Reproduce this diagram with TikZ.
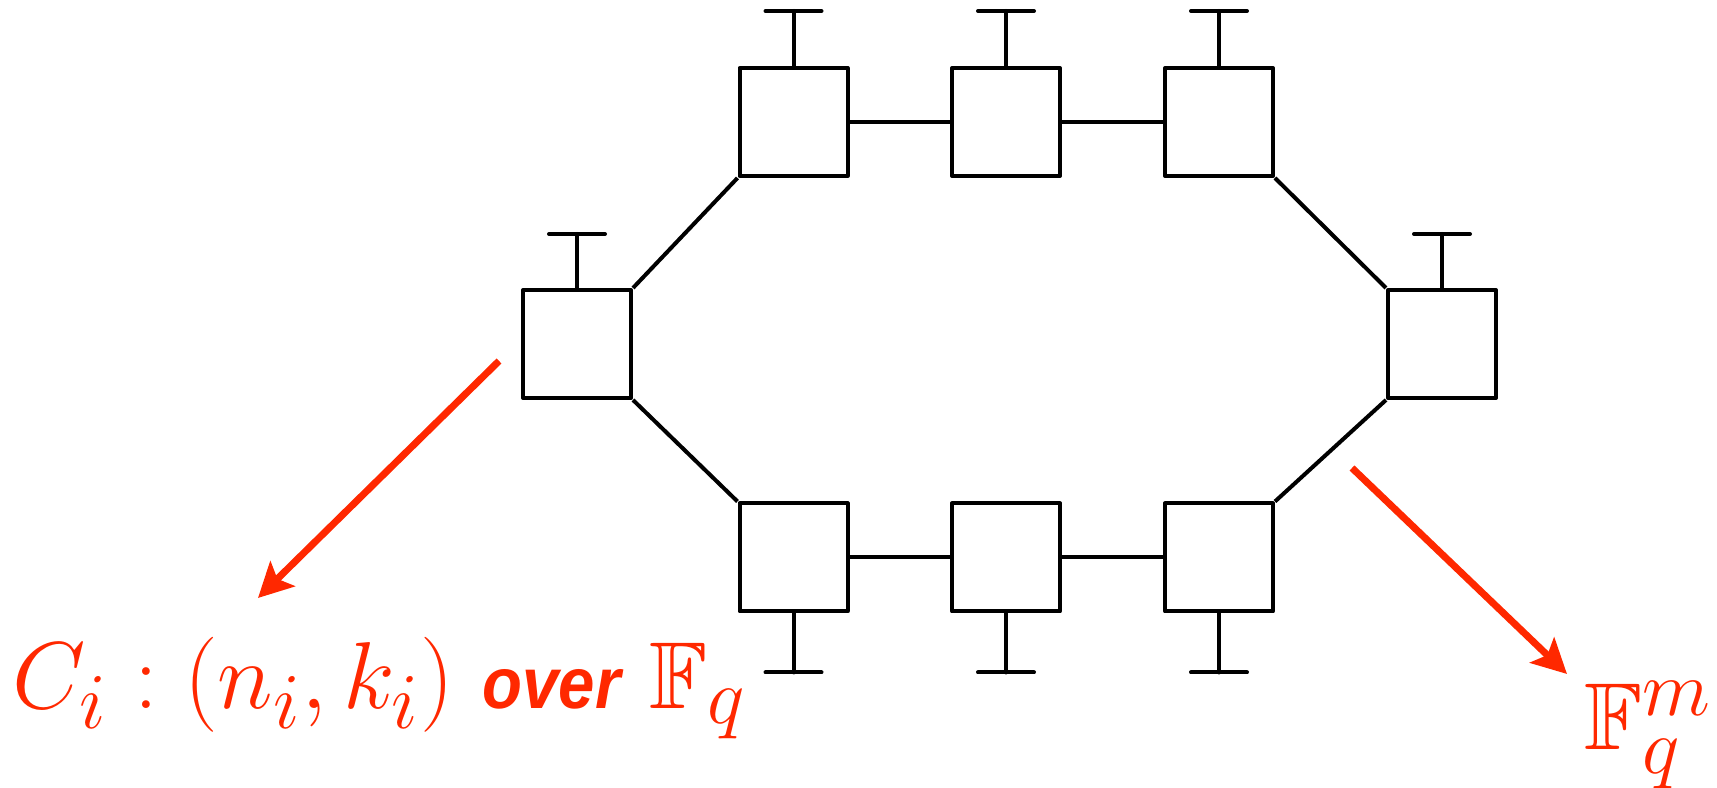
\documentclass[tikz,border=0pt]{standalone}
\usepackage{fontspec}
\usepackage{amssymb}
\usepackage{graphicx}
\usetikzlibrary{arrows.meta}
\newfontfamily\oversf{Liberation Sans}
\definecolor{hot}{RGB}{255,40,0}

\begin{document}
\begin{tikzpicture}[x=0.25pt,y=-0.25pt,
  blk/.style={draw=black,line width=1pt,minimum width=27pt,minimum height=27pt,inner sep=0pt,line join=round},
  wire/.style={line width=1pt,black},
  leg/.style={line width=1pt,black,line cap=round},
  pointer/.style={hot,line width=1.75pt,-{Stealth[length=8.6pt,width=8.7pt,inset=1.8pt]}},
  lbl/.style={text=hot,inner sep=0pt,scale=0.955,font=\Huge}]
\useasboundingbox (0,0) rectangle (1717,788);

% ring of blocks
\node[blk] (t1) at (793.5,122) {};
\node[blk] (t2) at (1006,122) {};
\node[blk] (t3) at (1219,122) {};
\node[blk] (l)  at (577,344) {};
\node[blk] (r)  at (1442,344) {};
\node[blk] (b1) at (793.5,557.5) {};
\node[blk] (b2) at (1006,557.5) {};
\node[blk] (b3) at (1219,557.5) {};

% links between blocks
\draw[wire] (t1.east) -- (t2.west);
\draw[wire] (t2.east) -- (t3.west);
\draw[wire] (b1.east) -- (b2.west);
\draw[wire] (b2.east) -- (b3.west);
\draw[wire] (t1.south west) -- (l.north east);
\draw[wire] (l.south east) -- (b1.north west);
\draw[wire] (t3.south east) -- (r.north west);
\draw[wire] (r.south west) -- (b3.north east);

% terminals on top
\foreach \n/\len in {t1/55,t2/55,t3/55,l/54,r/54} {
  \draw[leg] (\n.north) -- ++(0,-\len) coordinate (\n-cap);
  \draw[leg] ([xshift=-7pt]\n-cap) -- ([xshift=7pt]\n-cap);
}
% terminals below
\foreach \n in {b1,b2,b3} {
  \draw[leg] (\n.south) -- ++(0,59) coordinate (\n-cap);
  \draw[leg] ([xshift=-7pt]\n-cap) -- ([xshift=7pt]\n-cap);
}

% labels
\node[lbl,anchor=base west] (code) at (12,709)
  {$C_i : (n_i, k_i)$ \scalebox{0.9}[1]{\oversf\fontsize{19}{23}\selectfont\bfseries\itshape over} $\mathbb{F}_q$};
\node[lbl,anchor=base west] (field) at (1584,750) {$\mathbb{F}_q^m$};

% pointers
\coordinate (lfrom) at (499,361);
\coordinate (lto) at (258,598);
\coordinate (rfrom) at (1352,468);
\coordinate (rto) at (1567,674);
\draw[pointer] (lfrom) -- (lto);
\draw[pointer] (rfrom) -- (rto);
\end{tikzpicture}
\end{document}
